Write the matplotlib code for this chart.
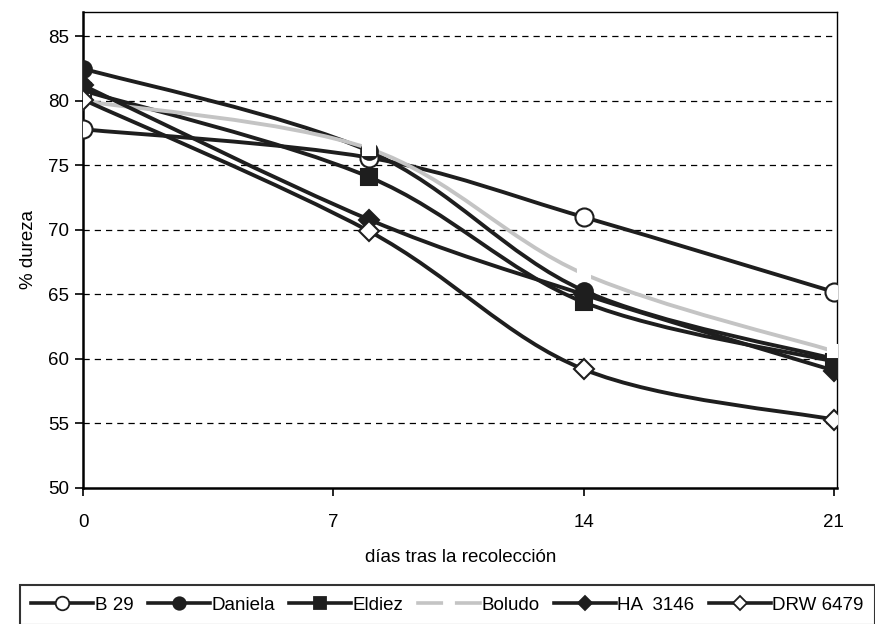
import numpy as np
import matplotlib
matplotlib.use("Agg")
import matplotlib.pyplot as plt
from matplotlib.path import Path
from matplotlib.patches import PathPatch
from matplotlib.lines import Line2D

plt.rcParams["font.family"] = ["Liberation Sans", "DejaVu Sans"]

# days after harvest
dias = [0, 8, 14, 21]

b29 = [77.8, 75.6, 71.0, 65.2]
daniela = [82.5, 76.1, 65.3, 60.0]
eldiez = [80.8, 74.1, 64.4, 59.8]
boludo = [80.0, 76.3, 66.6, 60.6]
ha3146 = [81.2, 70.8, 65.0, 59.1]
drw6479 = [80.1, 69.9, 59.2, 55.3]

nombres = ["B 29", "Daniela", "Eldiez", "Boludo", "HA  3146", "DRW 6479"]
x_ticks = [0, 7, 14, 21]
y_ticks = [50, 55, 60, 65, 70, 75, 80, 85]


def smooth_path(xs, ys):
    # Catmull-Rom style bezier through the points, like Excel's smoothed line
    pts = np.column_stack([xs, ys]).astype(float)
    ext = np.vstack([pts[0], pts, pts[-1]])
    verts = [pts[0]]
    codes = [Path.MOVETO]
    for i in range(1, len(ext) - 2):
        p0, p1, p2, p3 = ext[i - 1], ext[i], ext[i + 1], ext[i + 2]
        c1 = p1 + (p2 - p0) / 6.0
        c2 = p2 - (p3 - p1) / 6.0
        verts += [c1, c2, p2]
        codes += [Path.CURVE4] * 3
    return Path(verts, codes)


fig = plt.figure(figsize=(8.75, 6.24), dpi=100)
ax = fig.add_axes([0.095, 0.218, 0.862, 0.763])

estilos = [
    # color, marker, face, edge, size
    ("#1e1e1e", "o", "white", "#1e1e1e", 13),
    ("#1e1e1e", "o", "#1e1e1e", "#1e1e1e", 12),
    ("#1e1e1e", "s", "#1e1e1e", "#1e1e1e", 12),
    ("#c4c4c4", "s", "white", "white", 9),
    ("#1e1e1e", "D", "#1e1e1e", "#1e1e1e", 10),
    ("#1e1e1e", "D", "white", "#1e1e1e", 10),
]
series = [b29, daniela, eldiez, boludo, ha3146, drw6479]

handles = []
for vals, nombre, (col, mk, fc, ec, ms) in zip(series, nombres, estilos):
    ax.add_patch(PathPatch(smooth_path(dias, vals), facecolor="none",
                           edgecolor=col, lw=2.8, zorder=3))
    ax.plot(dias, vals, linestyle="none", marker=mk, markersize=ms,
            markerfacecolor=fc, markeredgecolor=ec, markeredgewidth=1.5, zorder=4)
    handles.append(Line2D([0], [0], color=col, lw=2.6, marker=mk, markersize=ms * 0.75,
                          markerfacecolor=fc, markeredgecolor=ec, markeredgewidth=1.3))

ax.set_xlim(0, 21.1)
ax.set_ylim(50, 86.9)
ax.set_xticks(x_ticks)
ax.set_yticks(y_ticks)
ax.tick_params(axis="both", direction="out", length=6, width=1.2, labelsize=13.5)
ax.tick_params(axis="x", pad=13)
ax.tick_params(axis="y", pad=4)

for y in y_ticks[1:]:
    ax.axhline(y, color="black", lw=0.9, linestyle=(0, (5, 4)), zorder=1)

for side in ["top", "right"]:
    ax.spines[side].set_linewidth(1.0)
for side in ["left", "bottom"]:
    ax.spines[side].set_linewidth(1.8)

ax.set_xlabel("días tras la recolección", fontsize=13.5, labelpad=13)
ax.set_ylabel("% dureza", fontsize=13.5, labelpad=8)

leg = fig.legend(handles, nombres, loc="upper left", bbox_to_anchor=(0.023, 0.062, 0.977, 0),
                 mode="expand", ncol=6, fontsize=13.5, handlelength=3.3, handletextpad=0.1,
                 columnspacing=0.3, frameon=True, fancybox=False,
                 borderpad=0.6, borderaxespad=0)
leg.get_frame().set_edgecolor("black")
leg.get_frame().set_linewidth(1.5)

fig.savefig("out.png", dpi=100)
